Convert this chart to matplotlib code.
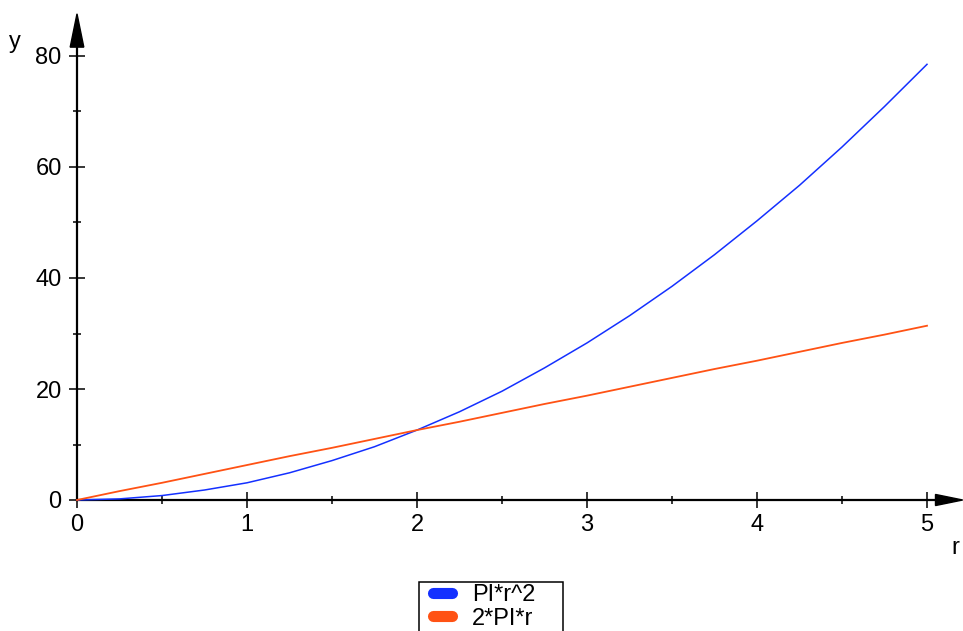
import numpy as np
import matplotlib.pyplot as plt
from matplotlib.lines import Line2D
from matplotlib.patches import Rectangle

# values (r step 0.25)
r = [0, 0.25, 0.5, 0.75, 1.0, 1.25, 1.5, 1.75, 2.0, 2.25, 2.5,
     2.75, 3.0, 3.25, 3.5, 3.75, 4.0, 4.25, 4.5, 4.75, 5.0]
area = [0, 0.2, 0.8, 1.8, 3.1, 4.9, 7.1, 9.6, 12.6, 15.9, 19.6,
        23.8, 28.3, 33.2, 38.5, 44.2, 50.3, 56.7, 63.6, 70.9, 78.5]
circ = [0, 1.6, 3.1, 4.7, 6.3, 7.9, 9.4, 11.0, 12.6, 14.1, 15.7,
        17.3, 18.8, 20.4, 22.0, 23.6, 25.1, 26.7, 28.3, 29.8, 31.4]
labels = ['PI*r^2', '2*PI*r']
colors = ['#1430ff', '#ff5214']

plt.rcParams['font.family'] = ['Liberation Sans', 'DejaVu Sans']

W, H = 963, 631
fig = plt.figure(figsize=(W / 100, H / 100), dpi=100)
ax = fig.add_axes([77 / W, (H - 500) / H, 850 / W, 444 / H])
ax.set_xlim(0, 5)
ax.set_ylim(0, 80)
for s in ax.spines.values():
    s.set_visible(False)

ax.plot(r, area, color=colors[0], lw=1.1, clip_on=False)
ax.plot(r, circ, color=colors[1], lw=1.3, clip_on=False)

# axes with arrow heads
ax.plot([0, 5.1], [0, 0], color='black', lw=1.6, clip_on=False, zorder=1)
ax.plot([0, 0], [0, 83], color='black', lw=1.6, clip_on=False, zorder=1)
ax.fill([5.05, 5.21, 5.05], [1.0, 0, -1.0], color='black', clip_on=False)
ax.fill([-0.04, 0, 0.04], [81.6, 87.6, 81.6], color='black', clip_on=False)

ax.set_xticks([0, 1, 2, 3, 4, 5])
ax.set_xticks(np.arange(0.5, 5, 1.0), minor=True)
ax.set_yticks([0, 20, 40, 60, 80])
ax.set_yticks([10, 30, 50, 70], minor=True)
ax.tick_params(which='major', direction='inout', length=12, width=1.1,
               labelsize=17)
ax.tick_params(which='minor', direction='inout', length=6, width=1.1)
ax.tick_params(axis='x', pad=4)
ax.tick_params(axis='y', pad=5)

fig.text(15 / W, 1 - 42 / H, 'y', fontsize=17, ha='center', va='center')
fig.text(955 / W, 1 - 548 / H, 'r', fontsize=17, ha='center', va='center')

# legend box (runs off the bottom edge like the original)
fig.patches.append(Rectangle((419 / W, -0.02), 144 / W, (H - 582) / H + 0.02,
                             transform=fig.transFigure, fill=False,
                             edgecolor='black', lw=1.1))
handles = [Line2D([0], [0], color=c, lw=8, solid_capstyle='round') for c in colors]
fig.legend(handles, labels, loc='upper left',
           bbox_to_anchor=(431 / W, 1 - 582 / H), fontsize=17,
           frameon=False, handlelength=0.8, handletextpad=0.83,
           borderpad=0.1, labelspacing=0.05, borderaxespad=0)

fig.savefig('out.png', dpi=100)
